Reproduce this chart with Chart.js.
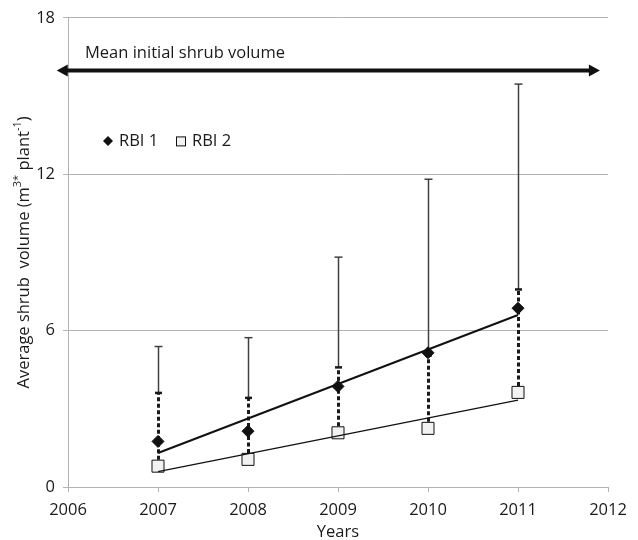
<!DOCTYPE html>
<html>
<head>
<meta charset="utf-8">
<script src="https://cdn.jsdelivr.net/npm/chart.js@4/dist/chart.umd.min.js"></script>
<style>
  html, body { margin: 0; padding: 0; background: #ffffff; }
  #wrap { width: 638px; height: 540px; }
</style>
</head>
<body>
<div id="wrap"><canvas id="c" width="638" height="540"></canvas></div>
<script>
// Sampling years and shrub volumes (m3 per plant)
const years = [2007, 2008, 2009, 2010, 2011];
const rbi1 = [1.75, 2.14, 3.86, 5.15, 6.86];
const rbi1Upper = [5.39, 5.73, 8.82, 11.81, 15.46];
const rbi2 = [0.80, 1.06, 2.08, 2.25, 3.63];
const rbi2Upper = [3.61, 3.42, 4.59, 5.05, 7.58];

// Axis ticks
const xTicks = [2006, 2007, 2008, 2009, 2010, 2011, 2012];
const yTicks = [0, 6, 12, 18];

// Reference level: mean initial shrub volume
const initialVolume = 16;

const FONT = '"Open Sans", "Noto Sans", sans-serif';
const FSIZE = 16.5;
const TEXT = '#1a1a1a';
const GRID = '#b3b3b3';

// Least-squares linear trend through a series
function trend(xs, ys) {
  const n = xs.length;
  const mx = xs.reduce((a, b) => a + b, 0) / n;
  const my = ys.reduce((a, b) => a + b, 0) / n;
  let sxy = 0, sxx = 0;
  for (let i = 0; i < n; i++) { sxy += (xs[i] - mx) * (ys[i] - my); sxx += (xs[i] - mx) ** 2; }
  const b = sxy / sxx, a = my - b * mx;
  return [xs[0], xs[n - 1]].map(x => ({ x, y: a + b * x }));
}

const pts = (ys) => years.map((x, i) => ({ x, y: ys[i] }));

const overlay = {
  id: 'overlay',
  beforeDatasetsDraw(chart) {
    const { ctx } = chart;
    const xs = chart.scales.x, ys = chart.scales.y;
    ctx.save();
    // RBI 1 upper error bars (solid)
    ctx.strokeStyle = '#404040';
    ctx.lineWidth = 1.5;
    years.forEach((yr, i) => {
      const px = Math.round(xs.getPixelForValue(yr)) + 0.5;
      const from = ys.getPixelForValue(Math.max(rbi1[i], rbi2Upper[i]));
      const to = ys.getPixelForValue(rbi1Upper[i]);
      ctx.beginPath(); ctx.moveTo(px, from); ctx.lineTo(px, to); ctx.stroke();
      ctx.beginPath(); ctx.moveTo(px - 4, to); ctx.lineTo(px + 4, to); ctx.stroke();
    });
    // RBI 2 upper error bars (dashed)
    ctx.strokeStyle = '#1a1a1a';
    ctx.lineWidth = 3;
    years.forEach((yr, i) => {
      const px = Math.round(xs.getPixelForValue(yr)) + 0.5;
      const from = ys.getPixelForValue(rbi2[i]);
      const to = ys.getPixelForValue(rbi2Upper[i]);
      ctx.setLineDash([4, 2.5]);
      ctx.beginPath(); ctx.moveTo(px, from); ctx.lineTo(px, to); ctx.stroke();
      ctx.setLineDash([]);
      ctx.lineWidth = 2.5;
      ctx.beginPath(); ctx.moveTo(px - 3.5, to); ctx.lineTo(px + 3.5, to); ctx.stroke();
      ctx.lineWidth = 3;
    });
    ctx.restore();
  },
  afterDraw(chart) {
    const { ctx, chartArea } = chart;
    const xs = chart.scales.x, ys = chart.scales.y;
    ctx.save();

    // Double-headed arrow for the mean initial volume
    const ay = Math.round(ys.getPixelForValue(initialVolume)) + 0.5;
    const x0 = xs.getPixelForValue(2005.875);
    const x1 = xs.getPixelForValue(2011.91);
    const head = 11, half = 6;
    ctx.strokeStyle = '#111';
    ctx.fillStyle = '#111';
    ctx.lineWidth = 4;
    ctx.beginPath(); ctx.moveTo(x0 + head - 1, ay); ctx.lineTo(x1 - head + 1, ay); ctx.stroke();
    ctx.beginPath(); ctx.moveTo(x0, ay); ctx.lineTo(x0 + head, ay - half); ctx.lineTo(x0 + head, ay + half); ctx.closePath(); ctx.fill();
    ctx.beginPath(); ctx.moveTo(x1, ay); ctx.lineTo(x1 - head, ay - half); ctx.lineTo(x1 - head, ay + half); ctx.closePath(); ctx.fill();

    ctx.fillStyle = TEXT;
    ctx.font = FSIZE + 'px ' + FONT;
    ctx.textBaseline = 'middle';
    ctx.textAlign = 'left';
    ctx.fillText('Mean initial shrub volume', chartArea.left + 17, ay - 17);

    // Legend
    const ly = chartArea.top + 123;
    const lx = chartArea.left + 40;
    ctx.fillStyle = '#111';
    ctx.beginPath();
    ctx.moveTo(lx, ly - 5); ctx.lineTo(lx + 5, ly); ctx.lineTo(lx, ly + 5); ctx.lineTo(lx - 5, ly); ctx.closePath(); ctx.fill();
    ctx.fillStyle = TEXT;
    ctx.fillText('RBI 1', lx + 11, ly);
    const sx = lx + 73;
    ctx.fillStyle = '#f2f2f2';
    ctx.fillRect(sx - 4.5, ly - 4, 9, 9);
    ctx.strokeStyle = '#111';
    ctx.lineWidth = 1;
    ctx.strokeRect(sx - 4.5, ly - 4, 9, 9);
    ctx.fillStyle = TEXT;
    ctx.fillText('RBI 2', sx + 11, ly);

    // X axis title
    ctx.textAlign = 'center';
    ctx.font = FSIZE + 'px ' + FONT;
    ctx.fillText('Years', (chartArea.left + chartArea.right) / 2, 532);

    // Y axis title with superscripts
    const parts = [
      { t: 'Average shrub  volume (m', sup: false },
      { t: '3*', sup: true },
      { t: ' plant', sup: false },
      { t: '-1', sup: true },
      { t: ')', sup: false }
    ];
    const fMain = FSIZE + 'px ' + FONT, fSup = '11px ' + FONT;
    let total = 0;
    parts.forEach(p => { ctx.font = p.sup ? fSup : fMain; p.w = ctx.measureText(p.t).width; total += p.w; });
    ctx.translate(24, (chartArea.top + chartArea.bottom) / 2);
    ctx.rotate(-Math.PI / 2);
    ctx.textAlign = 'left';
    let cx = -total / 2;
    parts.forEach(p => {
      ctx.font = p.sup ? fSup : fMain;
      ctx.fillText(p.t, cx, p.sup ? -6 : 0);
      cx += p.w;
    });
    ctx.restore();
  }
};

new Chart(document.getElementById('c'), {
  type: 'scatter',
  data: {
    datasets: [
      {
        label: 'RBI 1',
        data: pts(rbi1),
        pointStyle: 'rectRot',
        pointRadius: 6,
        backgroundColor: '#111',
        borderColor: '#111',
        borderWidth: 1,
        order: 0
      },
      {
        label: 'RBI 2',
        data: pts(rbi2),
        pointStyle: 'rect',
        pointRadius: 8.5,
        backgroundColor: '#f2f2f2',
        borderColor: '#111',
        borderWidth: 1,
        order: 2
      },
      {
        label: 'RBI 1 trend',
        data: trend(years, rbi1),
        showLine: true,
        pointRadius: 0,
        borderColor: '#111',
        borderWidth: 2,
        order: 1
      },
      {
        label: 'RBI 2 trend',
        data: trend(years, rbi2),
        showLine: true,
        pointRadius: 0,
        borderColor: '#111',
        borderWidth: 1.3,
        order: 1
      }
    ]
  },
  options: {
    responsive: false,
    animation: false,
    devicePixelRatio: 1,
    layout: { padding: { top: 15, right: 30, left: 0, bottom: 0 } },
    plugins: { legend: { display: false }, tooltip: { enabled: false } },
    scales: {
      x: {
        type: 'linear',
        min: 2006,
        max: 2012,
        afterBuildTicks: (s) => { s.ticks = xTicks.map(v => ({ value: v })); },
        afterFit: (s) => { s.height = 53; },
        ticks: { callback: (v) => String(v), color: TEXT, font: { family: FONT, size: FSIZE }, padding: 8, maxRotation: 0 },
        grid: { drawOnChartArea: false, drawTicks: true, tickLength: 5, color: GRID },
        border: { color: GRID }
      },
      y: {
        min: 0,
        max: 18,
        afterBuildTicks: (s) => { s.ticks = yTicks.map(v => ({ value: v })); },
        afterFit: (s) => { s.width = 68; },
        ticks: { callback: (v) => String(v), color: TEXT, font: { family: FONT, size: FSIZE }, padding: 8 },
        grid: { color: GRID, tickLength: 5 },
        border: { color: GRID }
      }
    }
  },
  plugins: [overlay]
});
</script>
</body>
</html>
